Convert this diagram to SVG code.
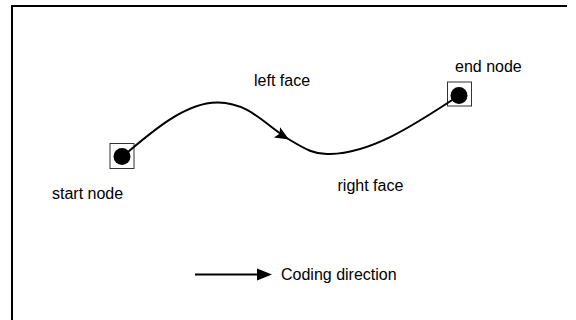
<svg xmlns="http://www.w3.org/2000/svg" width="576" height="320" viewBox="0 0 576 320">
<style>
text{font-family:"Liberation Sans",Arial,sans-serif;font-size:16px;fill:#000}
.box{fill:none;stroke:#333;stroke-width:1}
.dot{fill:#000}
.line{fill:none;stroke:#000;stroke-width:2}
</style>
<rect width="576" height="320" fill="#fff"/>
<path d="M12,320 V6 H567" fill="none" stroke="#000" stroke-width="2"/>
<g id="start-node">
<rect class="box" x="110" y="143.5" width="24" height="25"/>
<circle class="dot" cx="122" cy="156.5" r="8.5"/>
<text x="52" y="199">start node</text>
</g>
<g id="end-node">
<rect class="box" x="447.5" y="82" width="24" height="24"/>
<circle class="dot" cx="459" cy="95.5" r="8.5"/>
<text x="455" y="72">end node</text>
</g>
<g id="connectors">
<path class="line" d="M122,157 C150,133 185,102 218,102.5 C250,103 265,125 290,140 C305,149 315,155 330,154 C370,153 410,128 459,95.5"/>
<polygon points="0,0 -14,-6 -11,0 -14,6" transform="translate(289,139.5) rotate(31)" fill="#000"/>
</g>
<g id="labels">
<text x="254" y="85.5">left face</text>
<text x="337.5" y="191">right face</text>
</g>
<g id="legend">
<line x1="195" y1="274.5" x2="260" y2="274.5" stroke="#000" stroke-width="2"/>
<polygon points="272,274.5 257,268.5 257,280.5" fill="#000"/>
<text x="281" y="280">Coding direction</text>
</g>
</svg>
